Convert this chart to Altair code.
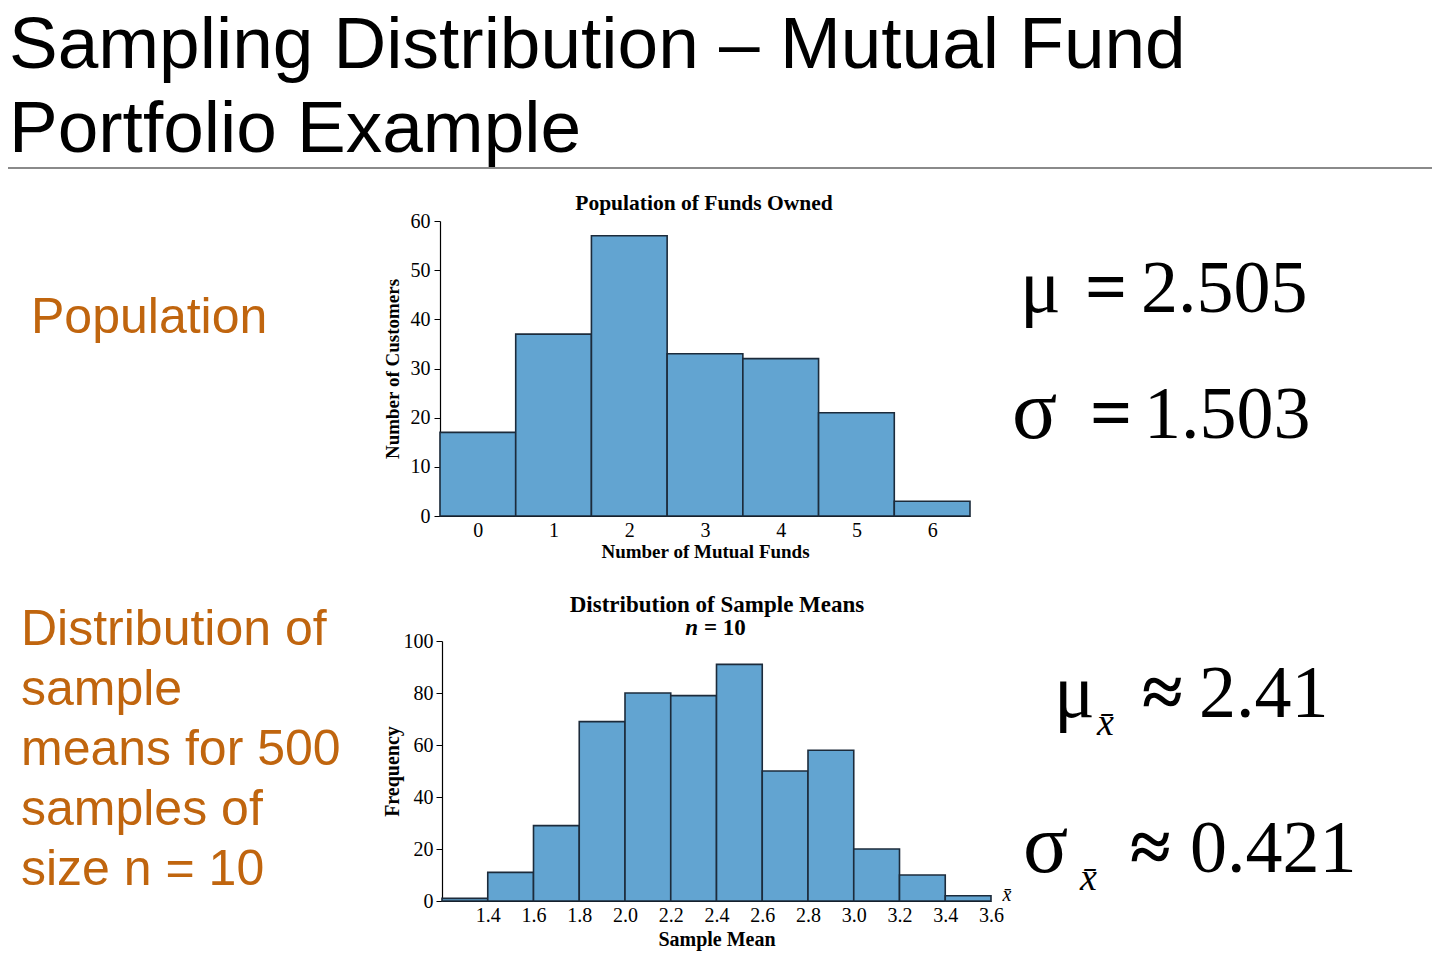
import altair as alt
import pandas as pd

# ---------------- data ----------------
funds_owned = [0, 1, 2, 3, 4, 5, 6]
customers = [17, 37, 57, 33, 32, 21, 3]
pop_y_ticks = [0, 10, 20, 30, 40, 50, 60]

mean_bin_start = [1.2, 1.4, 1.6, 1.8, 2.0, 2.2, 2.4, 2.6, 2.8, 3.0, 3.2, 3.4]
mean_freq = [1, 11, 29, 69, 80, 79, 91, 50, 58, 20, 10, 2]
mean_x_ticks = [1.4, 1.6, 1.8, 2.0, 2.2, 2.4, 2.6, 2.8, 3.0, 3.2, 3.4, 3.6]
mean_y_ticks = [0, 20, 40, 60, 80, 100]

slide_title = "Sampling Distribution \u2013 Mutual Fund\nPortfolio Example"
side_label_pop = "Population"
side_label_samp = "Distribution of\nsample\nmeans for 500\nsamples of\nsize n = 10"
pop_title = "Population of Funds Owned"
pop_xtitle = "Number of Mutual Funds"
pop_ytitle = "Number of Customers"
samp_title = "Distribution of Sample Means"
samp_xtitle = "Sample Mean"
samp_ytitle = "Frequency"

pop_df = pd.DataFrame({
    "funds": funds_owned,
    "count": customers,
})
pop_df["lo"] = pop_df["funds"] - 0.5
pop_df["hi"] = pop_df["funds"] + 0.5

samp_df = pd.DataFrame({"start": mean_bin_start, "freq": mean_freq})
samp_df["end"] = (samp_df["start"] + 0.2).round(1)

# ---------------- layout ----------------
W, H = 1424, 948
M = 8  # page margin: page coords -> chart coords
BAR = "#62a4d1"
EDGE = "#1c2b3b"
ORANGE = "#c0650e"
SERIF = "Liberation Serif"
SANS = "Liberation Sans"


def P(v):
    return v - M


def txt(text, x, y, size, font=SERIF, color="black", weight="normal",
        style="normal", align="left", baseline="alphabetic", line_height=None):
    kw = dict(font=font, fontSize=size, color=color, fontWeight=weight,
              fontStyle=style, align=align, baseline=baseline, lineBreak="\n")
    if line_height:
        kw["lineHeight"] = line_height
    return alt.Chart(pd.DataFrame({"t": [text]})).mark_text(**kw).encode(
        x=alt.value(P(x)), y=alt.value(P(y)), text="t:N")


axis_common = dict(
    grid=False, domainColor="black", domainWidth=1.2, tickColor="black",
    labelFont=SERIF, labelColor="black", titleFont=SERIF, titleColor="black",
    titleFontWeight="bold", labelFlush=False, labelOverlap=False,
)

# population histogram (pixel ranges through the scales)
pop_bars = alt.Chart(pop_df).mark_rect(fill=BAR, stroke=EDGE, strokeWidth=1.6).encode(
    x=alt.X("lo:Q",
            scale=alt.Scale(domain=[-0.5, 6.5], range=[P(440), P(970)], nice=False, zero=False),
            axis=alt.Axis(orient="bottom", offset=-(H - P(516)), values=funds_owned,
                          ticks=False, labelFontSize=20, labelPadding=4, format="d",
                          title=pop_xtitle, titleFontSize=19, titlePadding=2, **axis_common)),
    x2="hi:Q",
    y=alt.Y("count:Q",
            scale=alt.Scale(domain=[0, 60], range=[P(516), P(221)], nice=False),
            axis=alt.Axis(orient="left", offset=-P(440), values=pop_y_ticks, tickSize=6,
                          labelFontSize=20, labelPadding=4,
                          title=pop_ytitle, titleFontSize=19, titlePadding=8, **axis_common)),
    y2=alt.datum(0),
)

# sample-means histogram
samp_bars = alt.Chart(samp_df).mark_rect(fill=BAR, stroke=EDGE, strokeWidth=1.6).encode(
    x=alt.X("start:Q",
            scale=alt.Scale(domain=[1.2, 3.6], range=[P(442), P(991)], nice=False, zero=False),
            axis=alt.Axis(orient="bottom", offset=-(H - P(901)), values=mean_x_ticks,
                          ticks=False, labelFontSize=20, labelPadding=4, format=".1f",
                          title=samp_xtitle, titleFontSize=20, titlePadding=4, **axis_common)),
    x2="end:Q",
    y=alt.Y("freq:Q",
            scale=alt.Scale(domain=[0, 100], range=[P(901), P(641)], nice=False),
            axis=alt.Axis(orient="left", offset=-P(442), values=mean_y_ticks, tickSize=6,
                          labelFontSize=20, labelPadding=3,
                          title=samp_ytitle, titleFontSize=20, titlePadding=1, **axis_common)),
    y2=alt.datum(0),
)

rule = alt.Chart(pd.DataFrame({"t": [0]})).mark_rule(color="#8a8a8a", strokeWidth=2).encode(
    x=alt.value(0), x2=alt.value(W), y=alt.value(P(168)))

layers = [
    txt(slide_title, 9, 10, 73, font=SANS, baseline="top", line_height=84),
    rule,
    txt(side_label_pop, 31, 333, 50, font=SANS, color=ORANGE),
    txt(side_label_samp, 21, 645, 50, font=SANS, color=ORANGE, line_height=60),
    txt(pop_title, 704, 204, 21.5, weight="bold", align="center", baseline="middle"),
    txt(samp_title, 717, 605, 23, weight="bold", align="center", baseline="middle"),
    txt("n", 698, 628, 23, weight="bold", style="italic", align="right", baseline="middle"),
    txt("= 10", 704, 628, 23, weight="bold", align="left", baseline="middle"),
    txt("x\u0304", 1007, 895, 20, style="italic", align="center", baseline="middle"),
    pop_bars,
    samp_bars,
    # formulas
    txt("\u03bc", 1020, 312, 76),
    txt("=", 1085, 312, 74, weight="bold"),
    txt("2.505", 1141, 312, 74),
    txt("\u03c3", 1012, 438, 84),
    txt("=", 1090, 438, 74, weight="bold"),
    txt("1.503", 1144, 438, 74),
    txt("\u03bc", 1054, 717, 76),
    txt("x\u0304", 1097, 735, 38, style="italic"),
    txt("\u2248", 1142, 717, 74, weight="bold"),
    txt("2.41", 1199, 717, 74),
    txt("\u03c3", 1023, 872, 84),
    txt("x\u0304", 1080, 890, 38, style="italic"),
    txt("\u2248", 1130, 872, 74, weight="bold"),
    txt("0.421", 1190, 872, 74),
]

chart = alt.layer(*layers).resolve_scale(
    x="independent", y="independent"
).resolve_axis(
    x="independent", y="independent"
).properties(
    width=W, height=H,
    autosize=alt.AutoSizeParams(type="none"),
    padding=0,
    background="white",
).configure_view(stroke=None)

chart.save("out.html", embed_options={"renderer": "svg", "actions": False})
